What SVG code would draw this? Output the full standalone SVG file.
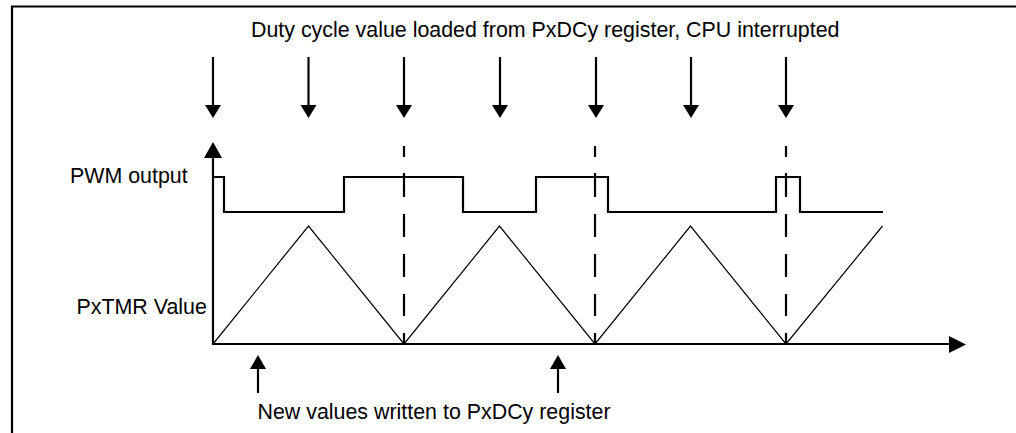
<svg xmlns="http://www.w3.org/2000/svg" xmlns:xlink="http://www.w3.org/1999/xlink" width="1016" height="433" viewBox="0 0 1016 433">
  <style>
    .txt { font-family: "Liberation Sans", Arial, sans-serif; font-size: 21.4px; fill: #000; }
    .thick { stroke: #000; stroke-width: 2.2; fill: none; }
    .thin { stroke: #000; stroke-width: 1.2; fill: none; }
    .dash { stroke: #000; stroke-width: 2.2; fill: none; }
    .head { fill: #000; stroke: none; }
  </style>
  <defs>
    <g id="downArrow">
      <line x1="0" y1="57" x2="0" y2="106" class="thick"/>
      <polygon points="-8,105 8,105 0,118" class="head"/>
    </g>
    <g id="upArrow">
      <line x1="0" y1="368" x2="0" y2="393" class="thick"/>
      <polygon points="-8,369 8,369 0,355" class="head"/>
    </g>
  </defs>
  <rect width="1016" height="433" fill="#fff"/>

  <g id="frame">
    <path d="M12,433 V6.5 H1016" class="thick" stroke-width="2.4"/>
  </g>

  <g id="title-label">
    <text x="251" y="37" class="txt">Duty cycle value loaded from PxDCy register, CPU interrupted</text>
  </g>

  <g id="pwm-label">
    <text x="70" y="182.5" class="txt">PWM output</text>
  </g>

  <g id="timer-label">
    <text x="76.5" y="314" class="txt">PxTMR Value</text>
  </g>

  <g id="bottom-label">
    <text x="257.5" y="419" class="txt">New values written to PxDCy register</text>
  </g>

  <g id="axes">
    <line x1="213" y1="157" x2="213" y2="345" class="thick"/>
    <polygon points="204,158 222,158 213,142" class="head"/>
    <line x1="212" y1="344" x2="950" y2="344" class="thick" stroke-width="2.5"/>
    <polygon points="949,336 949,353 966,344.5" class="head"/>
  </g>

  <g id="pwm-output">
    <path d="M213,177 H224 V212 H344 V177 H463 V212 H536 V177 H608 V212 H776 V177 H800 V212 H883" class="thick"/>
  </g>

  <g id="timer-wave">
    <polyline points="213,344 308.5,226 404,344 499.5,226 595,344 690.5,226 786,344 882.5,226" class="thin"/>
  </g>

  <g id="connectors">
    <use xlink:href="#downArrow" x="213"/>
    <use xlink:href="#downArrow" x="308.5"/>
    <use xlink:href="#downArrow" x="404"/>
    <use xlink:href="#downArrow" x="500"/>
    <use xlink:href="#downArrow" x="596"/>
    <use xlink:href="#downArrow" x="691"/>
    <use xlink:href="#downArrow" x="786"/>
    <use xlink:href="#upArrow" x="258"/>
    <use xlink:href="#upArrow" x="558"/>
    <path d="M404,146 V157 M404,173 V197 M404,214 V237 M404,254 V277 M404,294 V316 M404,333 V344" class="dash"/>
    <path d="M595,146 V157 M595,173 V197 M595,214 V237 M595,254 V277 M595,294 V316 M595,333 V344" class="dash"/>
    <path d="M786,146 V157 M786,173 V197 M786,214 V237 M786,254 V277 M786,294 V316 M786,333 V344" class="dash"/>
  </g>
</svg>
